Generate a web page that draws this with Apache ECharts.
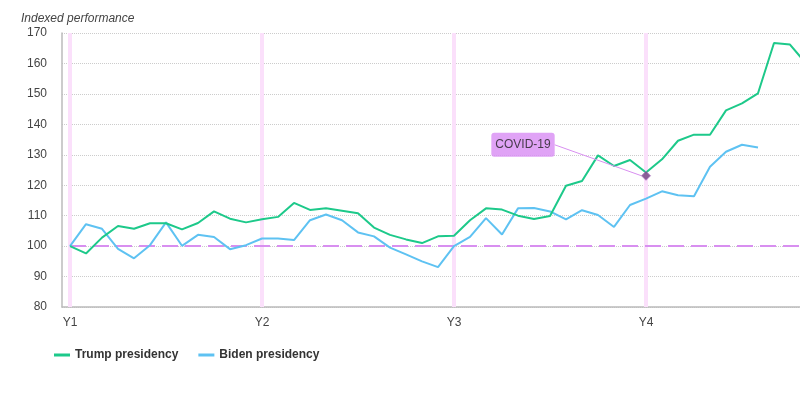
<!DOCTYPE html>
<html><head><meta charset="utf-8">
<script src="https://cdn.jsdelivr.net/npm/echarts@6/dist/echarts.min.js"></script>
<style>html,body{margin:0;padding:0;background:#fff}#chart{width:800px;height:400px}</style>
</head><body><div id="chart"></div>
<script>
const yearLabels = ['Y1', 'Y2', 'Y3', 'Y4'];
const monthsPerYear = 12;
const yTicks = { min: 80, max: 170, interval: 10 };
const trumpValues = [100, 97.6, 102.8, 106.6, 105.7, 107.5, 107.5, 105.5, 107.6, 111.4, 109.0, 107.8,
  108.8, 109.6, 114.2, 111.9, 112.4, 111.6, 110.8, 106.1, 103.7, 102.2, 101.0, 103.2,
  103.4, 108.5, 112.4, 112.0, 110.0, 108.9, 109.9, 119.8, 121.4, 129.8, 126.3, 128.3,
  124.2, 128.5, 134.6, 136.6, 136.6, 144.6, 146.9, 150.2, 166.7, 166.2, 160.0];
const bidenValues = [100, 107.2, 105.7, 99.1, 96.0, 100.3, 107.8, 100.1, 103.7, 103.0, 99.0, 100.3,
  102.5, 102.5, 102.0, 108.5, 110.4, 108.5, 104.5, 103.2, 99.5, 97.3, 95.0, 93.1,
  100, 103.0, 109.2, 103.8, 112.4, 112.5, 111.4, 108.8, 111.8, 110.2, 106.3, 113.5,
  115.6, 118.0, 116.7, 116.4, 126.1, 131.0, 133.3, 132.4];
const baselineValue = 100;
const covidLabel = 'COVID-19';
const covidCategory = 'Y4';
const covidValue = 123.1;

const categories = [];
yearLabels.forEach(y => {
  for (let m = 1; m <= monthsPerYear; m++) categories.push(m === 1 ? y : y + '-' + m);
});

const chart = echarts.init(document.getElementById('chart'));
chart.setOption({
  animation: false,
  textStyle: { fontFamily: 'Liberation Sans, Arial, sans-serif' },
  title: {
    text: 'Indexed performance', left: 16, top: 8,
    textStyle: { fontStyle: 'italic', fontWeight: 'normal', fontSize: 12, color: '#444' }
  },
  legend: {
    data: [{ name: 'Trump presidency', icon: 'rect' }, { name: 'Biden presidency', icon: 'rect' }],
    left: 49, top: 344, itemWidth: 16, itemHeight: 3, itemGap: 20,
    textStyle: { fontSize: 12, fontWeight: 'bold', color: '#333' }
  },
  grid: { left: 62, right: -30, top: 33, bottom: 93, containLabel: false, outerBoundsMode: 'none' },
  xAxis: {
    type: 'category', data: categories, boundaryGap: true,
    axisLine: { lineStyle: { color: '#bbb', width: 1.5 } },
    axisTick: { show: false },
    axisLabel: { interval: monthsPerYear - 1, color: '#444', fontSize: 12, margin: 10,
      formatter: v => v.split('-')[0] },
    splitLine: { show: false }
  },
  yAxis: {
    type: 'value', min: yTicks.min, max: yTicks.max, interval: yTicks.interval,
    axisLine: { show: true, lineStyle: { color: '#bbb', width: 1.5 } },
    axisTick: { show: false },
    axisLabel: { color: '#444', fontSize: 12, margin: 15 },
    splitLine: { lineStyle: { type: 'dotted', color: '#ccc', width: 1 } }
  },
  series: [
    {
      name: 'guides', type: 'line', data: [], z: 1, silent: true,
      markLine: {
        z: 1, silent: true, symbol: 'none', label: { show: false },
        lineStyle: { color: '#fbe0fb', width: 4, type: 'solid' },
        data: yearLabels.map(y => ({ xAxis: y }))
      }
    },
    {
      name: 'baseline', type: 'line', data: [], z: 1, silent: true,
      markLine: {
        z: 1, silent: true, symbol: 'none', label: { show: false },
        lineStyle: { color: '#d88ff0', width: 2, type: [16, 7] },
        data: [[{ coord: [categories[0], baselineValue] }, { coord: [categories[categories.length - 1], baselineValue] }]]
      }
    },
    {
      name: 'Trump presidency', type: 'line', data: trumpValues, z: 3,
      symbol: 'none', color: '#1dc98a', lineStyle: { width: 2, color: '#1dc98a' }
    },
    {
      name: 'Biden presidency', type: 'line', data: bidenValues, z: 2,
      symbol: 'none', color: '#5ec2f2', lineStyle: { width: 2, color: '#5ec2f2' }
    },
    {
      name: 'covid', type: 'scatter', z: 5, symbol: 'diamond', symbolSize: 9,
      itemStyle: { color: '#6e3d7e', borderColor: '#b07ac0', borderWidth: 1 },
      data: [[covidCategory, covidValue]],
      label: {
        show: true, position: 'inside', formatter: covidLabel,
        backgroundColor: '#d88cf4', color: '#222', fontSize: 12,
        padding: [6, 4], borderRadius: 3
      },
      labelLayout: { dx: -123, dy: -31 },
      labelLine: { show: true, lineStyle: { color: '#d88ff0', width: 1 } }
    }
  ]
});
</script></body></html>
